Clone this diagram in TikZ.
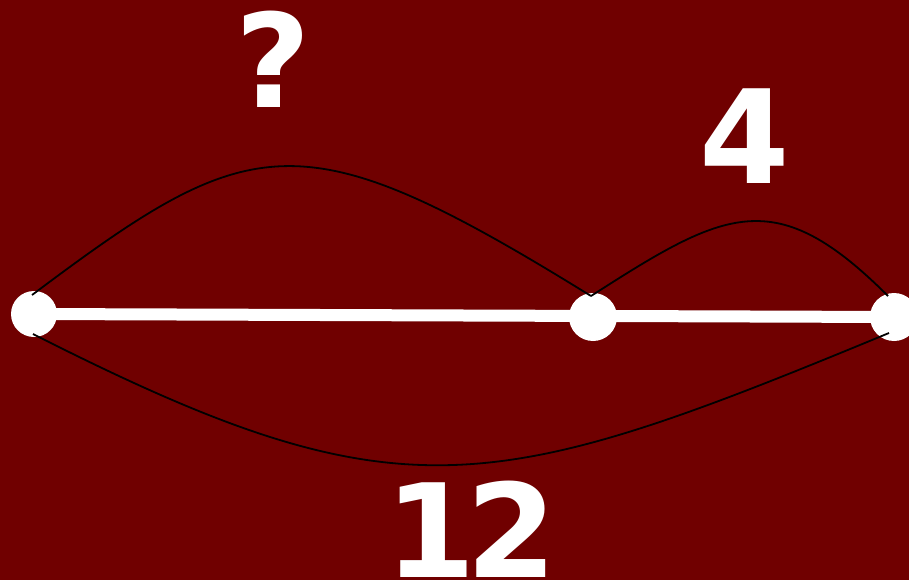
\documentclass[tikz,border=0pt]{standalone}
\usepackage{fontspec}
\setsansfont{DejaVu Sans}
\usepackage{tikz}
\usetikzlibrary{calc}
\usepackage{tkz-euclide}
\definecolor{maroonbg}{RGB}{112,0,0}
\tikzset{
  lbl/.style={text=white, inner sep=0pt, anchor=base,
    font=\sffamily\bfseries\fontsize{130}{130}\selectfont},
  arc/.style={black, line width=1.8pt}
}

\begin{document}
\begin{tikzpicture}[x=1pt, y=-1pt]
                \fill[maroonbg] (0,0) rectangle (909,580);
                \useasboundingbox (0,0) rectangle (909,580);
                \tkzDefPoints{34/314/A, 593/317/B, 894/317/C}
                \tkzDefPoints{32/295/At, 33/334/Ab, 591/296/Bt, 888/296/Ct, 889/333/Cb}
                \tkzDrawSegments[white, line width=12pt](A,C)
                \fill[white] (A) circle (23pt);
                \fill[white] (B) circle (24pt);
                \fill[white] (C) circle (24pt);
                \draw[arc] (At) .. controls (252,130) and (300,116) .. (Bt);
                \draw[arc] (Bt) .. controls (725,210) and (775,183) .. (Ct);
                \draw[arc] (Ab) .. controls (400,520) and (490,498) .. (Cb);
                \node[lbl] (q) at (273,108) {?};
                \node[lbl] (four) at (745,183) {4};
                \node[lbl] (twelve) at (471,577) {1\kern-10pt 2};
            \end{tikzpicture}
\end{document}
